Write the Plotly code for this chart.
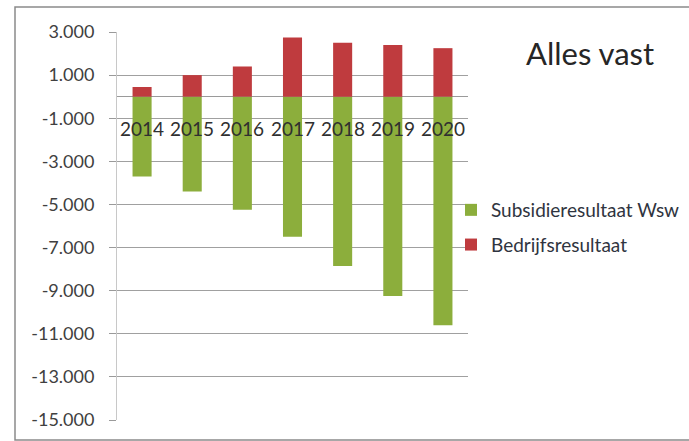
import plotly.graph_objects as go

years = ["2014", "2015", "2016", "2017", "2018", "2019", "2020"]
subsidie = [-3700, -4400, -5250, -6500, -7850, -9250, -10600]
bedrijf = [450, 1000, 1400, 2750, 2500, 2400, 2250]
ytick_vals = [-15000, -13000, -11000, -9000, -7000, -5000, -3000, -1000, 1000, 3000]
ytick_text = ["-15.000", "-13.000", "-11.000", "-9.000", "-7.000", "-5.000", "-3.000",
              "-1.000", "1.000", "3.000"]
title_text = "Alles vast"

W, H = 689, 441
L, R, T, B = 117, 221, 32, 21
pw, ph = W - L - R, H - T - B
ymin, ymax = -15000, 3000
font = "Lato, 'Open Sans', sans-serif"

fig = go.Figure()
fig.add_trace(go.Bar(x=years, y=subsidie, name="Subsidieresultaat Wsw",
                     marker=dict(color="#8cae3c", line=dict(width=0)),
                     legendgroup="a"))
fig.add_trace(go.Bar(x=years, y=bedrijf, name="Bedrijfsresultaat",
                     marker=dict(color="#bf3b3e", line=dict(width=0)),
                     legendgroup="b"))

def px_x(x):
    return (x - L) / pw

def px_y(y):
    return (H - B - y) / ph

# category labels sit just below the zero line, as in the original
# (x given as the category's serial index on the category axis)
cat_labels = [dict(text=yr, xref="x", yref="y", x=i, y=0, yshift=-32,
                   xanchor="center", yanchor="middle", showarrow=False,
                   font=dict(size=19, color="#303030", family=font))
              for i, yr in enumerate(years)]

fig.update_layout(
    width=W, height=H,
    margin=dict(l=L, r=R, t=T, b=B, pad=0, autoexpand=False),
    barmode="relative", bargap=0.62,
    paper_bgcolor="white", plot_bgcolor="white",
    font=dict(family=font, color="#404040"),
    showlegend=True,
    legend=dict(x=px_x(451), y=px_y(191), xanchor="left", yanchor="top",
                traceorder="grouped", tracegroupgap=7,
                font=dict(size=19, color="#2f3440", family=font),
                itemwidth=30, bgcolor="rgba(0,0,0,0)"),
    xaxis=dict(type="category", categoryorder="array", categoryarray=years,
               range=[-0.5, len(years) - 0.5],
               showline=False, ticks="", showgrid=False,
               zeroline=False, showticklabels=False),
    yaxis=dict(range=[ymin, ymax], tickmode="array",
               tickvals=ytick_vals, ticktext=ytick_text,
               showgrid=True, gridcolor="#a0a0a0", gridwidth=1,
               showline=True, linecolor="#c8c8c8", linewidth=1,
               ticks="outside", ticklen=7, tickcolor="#9a9a9a",
               zeroline=True, zerolinecolor="#9a9a9a", zerolinewidth=1,
               tickfont=dict(size=18, color="#404040", family=font),
               ticklabelstandoff=11),
    shapes=[dict(type="rect", xref="paper", yref="paper",
                 x0=px_x(15), x1=px_x(700), y0=px_y(440), y1=px_y(7),
                 line=dict(color="#8a8a8a", width=1.5), fillcolor="rgba(0,0,0,0)",
                 layer="above")],
    annotations=cat_labels + [dict(text=title_text, xref="paper", yref="paper",
                      x=px_x(590), y=px_y(53), xanchor="center", yanchor="middle",
                      showarrow=False,
                      font=dict(size=31, color="#262626", family=font))],
)

fig.write_html("out.html")
